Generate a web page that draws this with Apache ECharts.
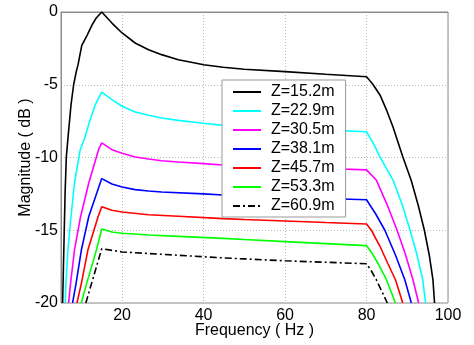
<!DOCTYPE html>
<html>
<head>
<meta charset="utf-8">
<script src="https://cdn.jsdelivr.net/npm/echarts@6/dist/echarts.min.js"></script>
<style>html,body{margin:0;padding:0;background:#fff}#c{width:474px;height:345px}</style>
</head>
<body>
<div id="c"></div>
<script>
// Legend names
const seriesNames = ['Z=15.2m','Z=22.9m','Z=30.5m','Z=38.1m','Z=45.7m','Z=53.3m','Z=60.9m'];
// Axis ticks
const xTicks = [20, 40, 60, 80, 100];
const yTicks = [0, -5, -10, -15, -20];
// [frequency Hz, magnitude dB]
const z152 = [[5.4,-20],[5.6,-17.5],[5.8,-15],[6.0,-12.5],[6.3,-10],[6.7,-8.7],[7.45,-6.4],[8.1,-5],[8.75,-4.1],[9.2,-3.6],[10.1,-2.3],[11.4,-1.6],[12.6,-0.9],[13.6,-0.43],[15,0],
  [17.5,-0.76],[20,-1.44],[23.2,-2.13],[26.5,-2.59],[29.7,-2.93],[33.8,-3.28],[37.9,-3.5],[40,-3.62],[44.8,-3.8],[50,-3.93],[60,-4.1],[70,-4.28],[80,-4.45],
  [81.5,-4.95],[83.3,-5.7],[85,-6.8],[86.5,-7.9],[88.9,-9.95],[91,-11.6],[92.7,-13.3],[94.2,-15],[95.4,-16.7],[96.3,-18.4],[96.7,-20]];
const z229 = [[6.05,-20],[6.2,-18.65],[6.7,-16.36],[7.45,-14.07],[8.3,-11.77],[9.7,-9.48],[10.8,-8.68],[12.0,-7.54],[13.4,-6.39],[15,-5.5],
  [17.5,-6.02],[20,-6.48],[23.2,-6.87],[26.5,-7.1],[29.7,-7.29],[33.8,-7.45],[40,-7.65],[44.8,-7.79],[50,-7.87],[60,-8.0],[70,-8.12],[80,-8.23],
  [81.6,-9.0],[83.3,-9.95],[86.5,-11.55],[88.7,-13.2],[90.7,-15],[92.4,-16.7],[93.8,-18.4],[94.5,-20]];
const z305 = [[6.86,-20],[7.35,-18.65],[8.3,-16.36],[9.8,-14.07],[11.8,-11.77],[14.2,-9.48],[15,-9.0],
  [17.5,-9.46],[20,-9.71],[23.2,-9.97],[26.5,-10.1],[29.7,-10.22],[33.8,-10.31],[40,-10.42],[44.8,-10.52],[50,-10.57],[60,-10.66],[70,-10.76],[80,-10.85],
  [82.4,-11.55],[85,-13.2],[87.5,-15],[89.6,-16.7],[91.4,-18.4],[92.8,-20]];
const z381 = [[7.84,-20],[8.7,-18.65],[10.0,-16.36],[11.8,-14.07],[14.6,-11.77],[15,-11.45],
  [17.5,-11.82],[20,-12.03],[23.2,-12.21],[26.5,-12.3],[29.7,-12.37],[40,-12.5],[44.8,-12.58],[50,-12.63],[60,-12.73],[70,-12.82],[80,-12.9],
  [82.3,-13.9],[84.5,-15],[87.1,-16.7],[89.4,-18.4],[91.0,-20]];
const z457 = [[8.92,-20],[10.0,-18.65],[11.6,-16.36],[14.1,-14.07],[15,-13.38],
  [17.5,-13.63],[20,-13.75],[26.5,-13.93],[33.8,-14.04],[44.8,-14.2],[50,-14.26],[60,-14.36],[70,-14.47],[80,-14.57],
  [81.2,-15],[83.3,-16.1],[85.2,-17.27],[87.1,-18.4],[88.9,-20]];
const z533 = [[9.97,-20],[11.3,-18.65],[13.7,-16.36],[15,-14.91],
  [17.5,-15.12],[20,-15.21],[26.5,-15.33],[33.8,-15.42],[44.8,-15.56],[50,-15.64],[60,-15.78],[70,-15.92],[80,-16.06],
  [81.4,-16.6],[82.8,-17.27],[84.9,-18.4],[87.1,-20]];
const z609 = [[11.1,-20],[12.5,-18.65],[15,-16.27],
  [20,-16.49],[33.8,-16.72],[44.8,-16.9],[50,-16.97],[60,-17.1],[70,-17.2],[80,-17.3],
  [81.2,-17.8],[82.4,-18.4],[85.1,-20]];

const allData = [z152, z229, z305, z381, z457, z533, z609];
const colors = ['#000000','#00ffff','#ff00ff','#0000ff','#ff0000','#00ff00','#000000'];
const font = '"Liberation Sans", Arial, sans-serif';

const chart = echarts.init(document.getElementById('c'), null, {renderer: 'canvas'});
chart.setOption({
  animation: false,
  backgroundColor: '#fff',
  grid: {left: 61, right: 26, top: 12, bottom: 42, containLabel: false, outerBoundsMode: 'none',
    show: true, borderColor: '#8c8c8c', borderWidth: 1, backgroundColor: 'transparent'},
  xAxis: {
    type: 'value', min: 5, max: 100,
    name: 'Frequency ( Hz )', nameLocation: 'middle', nameGap: 20, nameMoveOverlap: false,
    nameTextStyle: {fontFamily: font, fontSize: 16, color: '#000'},
    axisLine: {show: true, lineStyle: {color: '#8c8c8c'}},
    axisTick: {show: false, customValues: xTicks},
    axisLabel: {customValues: xTicks, fontFamily: font, fontSize: 16, color: '#000', margin: 5},
    splitLine: {show: true, lineStyle: {color: '#b8b8b8', type: [1, 2], width: 1}}
  },
  yAxis: {
    type: 'value', min: -20, max: 0, interval: 5,
    name: 'Magnitude ( dB )', nameLocation: 'middle', nameGap: 27, nameRotate: 90, nameMoveOverlap: false,
    nameTextStyle: {fontFamily: font, fontSize: 16, color: '#000'},
    axisLine: {show: true, lineStyle: {color: '#8c8c8c'}},
    axisTick: {show: false},
    axisLabel: {fontFamily: font, fontSize: 16, color: '#000', margin: 3},
    splitLine: {show: true, lineStyle: {color: '#b8b8b8', type: [1, 2], width: 1}}
  },
  legend: {
    orient: 'vertical', left: 222, top: 80,
    data: seriesNames,
    backgroundColor: '#fff', borderColor: '#999', borderWidth: 1,
    padding: [4, 11, 3, 10],
    itemWidth: 28, itemHeight: 14, itemGap: 3,
    itemStyle: {opacity: 0},
    textStyle: {fontFamily: font, fontSize: 16, color: '#000', padding: [0, 0, 0, 5]}
  },
  series: seriesNames.map((n, i) => ({
    name: n, type: 'line', data: allData[i], symbol: 'none', showSymbol: false,
    smooth: false, clip: true,
    lineStyle: {color: colors[i], width: 1.6, type: i === 6 ? [7, 3, 2, 3] : 'solid'},
    itemStyle: {color: colors[i]}
  }))
});
</script>
</body>
</html>
